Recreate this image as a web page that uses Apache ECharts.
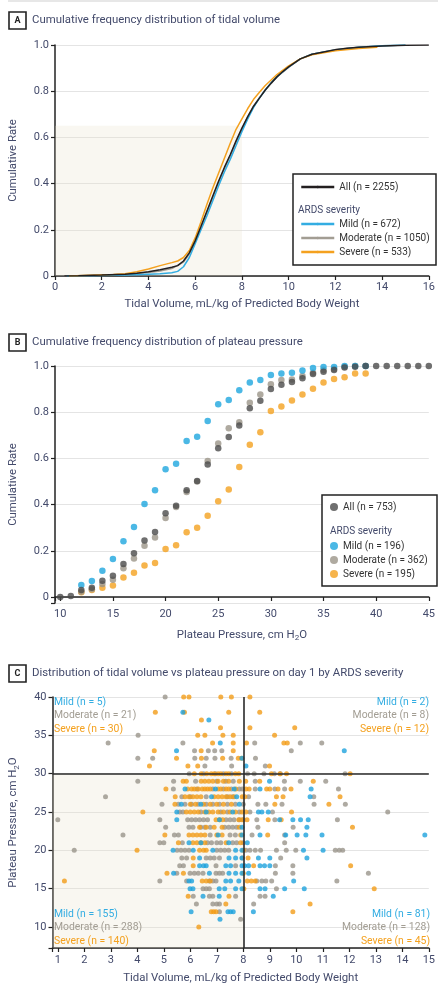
<!DOCTYPE html>
<html>
<head>
<meta charset="utf-8">
<script src="https://cdn.jsdelivr.net/npm/echarts@6/dist/echarts.min.js"></script>
<style>
  html, body { margin: 0; padding: 0; background: #fff; }
  #chart { width: 438px; height: 987px; }
</style>
</head>
<body>
<div id="chart"></div>
<script>
// ---- Panel A: cumulative frequency of tidal volume (x = mL/kg PBW, y = rate)
const tvAll = [[0.4,0],[1,0.001],[2,0.004],[3,0.008],[3.5,0.012],[4,0.018],[4.5,0.027],[5,0.038],[5.25,0.045],[5.5,0.065],[5.75,0.1],[6,0.152],[6.25,0.215],[6.5,0.28],[6.75,0.345],[7,0.41],[7.25,0.47],[7.5,0.525],[7.75,0.585],[8,0.64],[8.25,0.69],[8.5,0.735],[8.75,0.77],[9,0.805],[9.25,0.835],[9.5,0.862],[9.75,0.885],[10,0.905],[10.5,0.94],[11,0.96],[11.5,0.97],[12,0.98],[12.5,0.986],[13,0.99],[14,0.996],[15,0.999],[16,1]]
const tvMild = [[0.5,0],[2,0.002],[3,0.004],[4,0.008],[4.5,0.01],[5,0.014],[5.25,0.02],[5.5,0.04],[5.75,0.08],[6,0.14],[6.25,0.2],[6.5,0.26],[6.75,0.325],[7,0.39],[7.25,0.45],[7.5,0.505],[7.75,0.565],[8,0.625],[8.25,0.68],[8.5,0.73],[8.75,0.77],[9,0.805],[9.25,0.837],[9.5,0.863],[9.75,0.885],[10,0.905],[10.5,0.94],[11,0.96],[12,0.978],[13,0.99],[14,0.997],[15,1]]
const tvModerate = [[0.4,0],[2,0.003],[3,0.008],[4,0.015],[4.5,0.022],[5,0.032],[5.5,0.06],[5.75,0.095],[6,0.15],[6.25,0.212],[6.5,0.275],[6.75,0.34],[7,0.405],[7.25,0.465],[7.5,0.52],[7.75,0.58],[8,0.635],[8.25,0.69],[8.5,0.735],[8.75,0.772],[9,0.805],[9.5,0.862],[10,0.903],[10.5,0.94],[11,0.96],[12,0.98],[13,0.99],[14,0.997],[15,1]]
const tvSevere = [[0.6,0],[1.5,0.003],[2.5,0.006],[3,0.01],[3.5,0.018],[4,0.03],[4.5,0.045],[5,0.058],[5.25,0.065],[5.5,0.08],[5.75,0.11],[6,0.165],[6.25,0.235],[6.5,0.31],[6.75,0.38],[7,0.445],[7.25,0.51],[7.5,0.575],[7.75,0.635],[8,0.68],[8.25,0.725],[8.5,0.765],[8.75,0.795],[9,0.825],[9.5,0.872],[10,0.91],[10.5,0.94],[11,0.958],[12,0.975],[13,0.985],[13.8,0.99]]

// ---- Panel B: cumulative frequency of plateau pressure (x = cm H2O)
const ppAll = [[10,0],[11,0.004],[12,0.03],[13,0.04],[14,0.07],[15,0.092],[16,0.143],[17,0.189],[18,0.245],[19,0.281],[20,0.362],[21,0.395],[22,0.462],[23,0.502],[24,0.574],[25,0.644],[26,0.693],[27,0.742],[28,0.817],[29,0.85],[30,0.9],[31,0.919],[32,0.931],[33,0.947],[34,0.965],[35,0.975],[36,0.983],[37,0.993],[38,0.997],[39,1],[40,1],[41,1],[42,1],[43,1],[44,1],[45,1]]
const ppMild = [[12,0.052],[13,0.069],[14,0.114],[15,0.165],[16,0.241],[17,0.303],[18,0.403],[19,0.462],[20,0.553],[21,0.577],[22,0.675],[23,0.694],[24,0.762],[25,0.834],[26,0.853],[27,0.895],[28,0.929],[29,0.939],[30,0.961],[31,0.967],[32,0.971],[33,0.98],[34,0.991],[35,0.996],[36,0.996],[37,1],[38,1],[39,1]]
const ppModerate = [[12,0.023],[13,0.033],[14,0.056],[15,0.075],[16,0.124],[17,0.167],[18,0.222],[19,0.258],[20,0.342],[21,0.39],[22,0.455],[23,0.5],[24,0.589],[25,0.665],[26,0.73],[27,0.756],[28,0.841],[29,0.877],[30,0.921],[31,0.939],[32,0.942],[33,0.957],[34,0.971],[35,0.983],[36,0.987],[37,0.997],[38,1],[39,1]]
const ppSevere = [[12,0.02],[13,0.03],[14,0.04],[15,0.05],[16,0.084],[17,0.105],[18,0.136],[19,0.147],[20,0.208],[21,0.224],[22,0.28],[23,0.3],[24,0.352],[25,0.414],[26,0.465],[27,0.563],[28,0.659],[29,0.713],[30,0.805],[31,0.825],[32,0.851],[33,0.877],[34,0.902],[35,0.929],[36,0.944],[37,0.951],[38,0.968],[39,0.968]]

// ---- Panel C: day-1 tidal volume vs plateau pressure, rows as [pressure, tv1, tv2, ...]
const mildRows = [
  [38,5.72],[37,6.7],[34,7.13],[33,5.48,11.81],[32,7.95],[31,8.1],
  [29,8.99],
  [28,5.8,6.95,7.66,8.63,10.56],
  [27,6.8,7.75,10.52],
  [26,5.66,6.4,7.85],
  [25,5.49,6.6,7.6,8.57,8.7,8.94],
  [24,5.49,7.1,9.37,9.87,10.16,10.45],
  [23,7.95,10.4],
  [22,7.05,7.95,8.63,9.6,10.03,10.36,10.97,14.85],
  [21,5.95,6.4,7.45,8.15],
  [20,5.35,6.11,6.85,7.71,7.95,10.27,11.01],
  [19,6.35,7.46,7.71,7.95,8.57,9.0,10.4],
  [18,6.35,6.5,6.6,7.34,7.52,7.95,8.05,8.2,8.63,8.8,9.0],
  [17,5.37,6.72,7.46,7.71,7.95,8.2],
  [16,5.95,6.05,7.34,7.52,7.83,9.9],
  [15,5.99,6.1,7.09,7.3,7.71,7.95,8.63,8.82,9.56,10.3],
  [14,6.48,7.09,9.13],
  [12,6.03,7.42,7.52,7.62,8.38],
  [11,7.12]
]
const moderateRows = [
  [40,5.05],[35,4.03],
  [34,2.9,5.72,8.43,10.15,10.96],
  [33,6.16,6.68,6.92,7.19,9.81],
  [32,4.02,4.58,6.17,6.6,6.93,7.54,8.46],
  [31,6.55,7.56,8.83],
  [30,5.96,6.5,6.95,7.25,7.55,8.16,8.41,8.78,9.17,9.4,11.84],
  [29,4.02,5.37,6.2,7.0,7.34,7.62,8.45,9.55,10.15,11.11],
  [28,5.36,6.25,6.85,7.25,7.55,7.85,7.96,8.45,9.19,9.56,11.59],
  [27,2.8,5.68,6.0,6.6,7.4,7.6,8.2,10.66],
  [26,4.93,5.55,5.8,6.05,6.3,6.6,6.85,7.1,7.4,7.7,8.0,8.55,8.85,9.46,10.67,11.85],
  [25,5.6,5.72,6.4,7.15,7.4,7.85,8.25,9.1,13.45],
  [24,1.0,4.85,5.9,6.05,6.2,6.35,6.5,6.65,7.35,7.5,7.65,7.85,8.0,8.51,9.19,11.55],
  [23,5.07,5.95,6.1,6.4,6.55,6.75,7.3,7.45,7.6,7.75,8.55,9.88],
  [22,3.46,5.4,5.55,6.75,7.5,7.7,8.33,9.56],
  [21,4.85,5.0,5.7,6.65,6.8,7.0,7.15,7.6,7.75,8.0,9.56],
  [20,1.62,5.5,5.65,5.8,5.95,7.0,7.15,7.3,7.45,8.1,8.25,8.45,8.65,9.25,9.62,9.98,11.47,11.62,11.75],
  [19,5.68,5.86,6.6,6.75,6.9,7.1,7.96,9.41],
  [18,5.6,5.74,6.97,7.71,9.21,9.87],
  [17,5.49,5.99,6.15,6.3,6.48,6.97,7.1,7.22,9.21,9.87,12.72],
  [16,4.85,5.86,6.72,6.85,6.97,8.51,8.7,8.85,9.07,11.53],
  [15,6.48,6.6,6.72,9.25],
  [14,6.11,6.72,6.85,7.71,8.63,8.82],
  [13,6.23,6.85,7.0,7.1,8.39],
  [12,7.1],
  [11,7.9]
]
const severeRows = [
  [40,5.75,5.95,7.15,7.55,8.25],
  [38,4.68,5.78,7.45,8.62],
  [37,6.42],
  [36,7.14,8.25,9.94],
  [35,6.28,6.55,7.23,7.62,9.18],
  [34,6.84,7.62,8.12,9.53,9.66],
  [33,4.64,6.41,7.62],
  [32,5.48,6.42,7.22,7.81,7.93],
  [31,4.46,5.91,6.28,8.99],
  [30,6.15,6.41,6.62,6.79,6.9,7.05,7.15,7.35,7.45,7.7,7.83,9.06,9.38,9.63,12.03],
  [29,5.73,5.85,6.41,6.55,6.7,6.85,7.05,7.25,7.45,7.85,8.09,8.62,10.64],
  [28,5.08,5.9,6.05,6.15,6.3,6.45,6.55,6.65,6.75,7.05,7.15,7.35,7.45,7.72,8.1,8.22,8.88,9.0,9.31,9.8],
  [27,5.43,5.8,5.95,6.1,6.25,6.4,6.9,7.05,7.2,7.35,7.5,7.65,7.96,8.06,9.25,9.5,11.65],
  [26,5.42,6.0,6.2,6.5,6.75,7.0,7.25,7.55,9.19,11.23],
  [25,4.21,5.85,6.0,6.15,6.3,6.55,6.7,6.85,7.05,7.25,7.5,7.7,7.95,8.1,9.82],
  [24,6.97,7.1,7.22,7.83,7.95,8.14,8.94,9.43],
  [23,6.35,6.6,6.9,7.2,7.85,12.12],
  [22,5.04,5.95,6.1,6.25,6.4,6.55,7.0,7.2,7.9,8.92],
  [21,5.55,6.1,6.25,6.4,6.55,7.35,7.9],
  [20,3.99,6.35,6.5,6.6,8.0],
  [19,6.11,8.18],
  [18,6.11,8.39,12.05],
  [17,5.12,5.74,8.0],
  [16,1.25,6.45,6.6,6.75,8.15,8.3,8.45],
  [15,8.02,12.94],
  [14,5.92,7.46],
  [13,7.34,10.52],
  [12,6.79,6.88,6.97,9.87],
  [10,6.32]
]

const quadrantLabels = [
  ['Mild (n = 5)', 'Moderate (n = 21)', 'Severe (n = 30)'],
  ['Mild (n = 2)', 'Moderate (n = 8)', 'Severe (n = 12)'],
  ['Mild (n = 155)', 'Moderate (n = 288)', 'Severe (n = 140)'],
  ['Mild (n = 81)', 'Moderate (n = 128)', 'Severe (n = 45)']
]

const FONT = "Roboto, 'DejaVu Sans', sans-serif"
const TXT = '#434a6b'
const C_BLACK = '#231f20'
const C_MILD = '#33ade2'
const C_MOD = '#a29d93'
const C_SEV = '#f4a11f'
const C_ALL_DOT = '#4b4b4b'

const toPoints = (rows) => rows.flatMap((r) => r.slice(1).map((x) => [x, r[0]]))

const chart = echarts.init(document.getElementById('chart'), null, { renderer: 'canvas' })

const axisCommon = {
  axisLine: { lineStyle: { color: '#222', width: 1.5 } },
  axisTick: { show: true, inside: false, length: 4, lineStyle: { color: '#222', width: 1.2 } },
  axisLabel: { color: TXT, fontSize: 11, fontFamily: FONT },
  nameTextStyle: { color: TXT, fontSize: 11.4, fontFamily: FONT },
  nameLocation: 'middle',
}
const rateFmt = (v) => (v < 0 ? '' : v === 0 ? '0' : v.toFixed(1))
const gridLine = { show: true, lineStyle: { color: '#e4e4e4', width: 1 } }
const h2oRich = { sub: { fontSize: 8, verticalAlign: 'bottom', padding: [6, 0, 0, 0], color: TXT, fontFamily: FONT } }
const legendText = { color: '#333', fontSize: 10, fontFamily: FONT, lineHeight: 14 }

function panelHead(letter, title, cy) {
  return [
    { type: 'rect', shape: { x: 9, y: cy - 8.5, width: 17, height: 17 }, style: { fill: '#fff', stroke: '#222', lineWidth: 1.6 } },
    { type: 'text', x: 17.5, y: cy, style: { text: letter, fill: '#222', font: 'bold 9px ' + FONT, textAlign: 'center', textVerticalAlign: 'middle' } },
    { type: 'text', x: 32, y: cy, style: { text: title, fill: TXT, font: '11.4px ' + FONT, textVerticalAlign: 'middle' } },
  ]
}

function quadText(lines, x, y, align) {
  const cols = [C_MILD, C_MOD, C_SEV]
  return lines.map((t, i) => ({
    type: 'text', x, y: y + i * 13.5, z: 5,
    style: { text: t, fill: cols[i], font: '10.4px ' + FONT, textAlign: align, textVerticalAlign: 'middle' },
  }))
}

const option = {
  animation: false,
  textStyle: { fontFamily: FONT },
  grid: [
    { left: 48, top: 45, width: 384, height: 231 },
    { left: 48, top: 366, width: 384, height: 237 },
    { left: 48, top: 697, width: 384, height: 251 },
  ],
  xAxis: [
    { ...axisCommon, gridIndex: 0, type: 'value', min: 0, max: 16, interval: 2, splitLine: { show: false },
      axisLabel: { ...axisCommon.axisLabel, margin: 6 },
      name: 'Tidal Volume, mL/kg of Predicted Body Weight', nameGap: 23 },
    { ...axisCommon, gridIndex: 1, type: 'value', min: 9.5, max: 45, splitNumber: 7, splitLine: { show: false },
      axisLabel: { ...axisCommon.axisLabel, margin: 6, formatter: (v) => (v % 5 === 0 ? String(v) : '') },
      name: 'Plateau Pressure, cm H{sub|2}O', nameGap: 25, nameTextStyle: { ...axisCommon.nameTextStyle, rich: h2oRich } },
    { ...axisCommon, gridIndex: 2, type: 'value', min: 0.8, max: 15, splitNumber: 14, splitLine: { show: false },
      axisLabel: { ...axisCommon.axisLabel, margin: 7, formatter: (v) => (Number.isInteger(v) ? String(v) : '') },
      name: 'Tidal Volume, mL/kg of Predicted Body Weight', nameGap: 25 },
  ],
  yAxis: [
    { ...axisCommon, gridIndex: 0, type: 'value', min: 0, max: 1, interval: 0.2, splitLine: gridLine,
      axisLabel: { ...axisCommon.axisLabel, margin: 6, formatter: rateFmt },
      name: 'Cumulative Rate', nameGap: 36 },
    { ...axisCommon, gridIndex: 1, type: 'value', min: -0.026, max: 1, splitNumber: 5, splitLine: gridLine,
      axisLabel: { ...axisCommon.axisLabel, margin: 6, formatter: rateFmt },
      name: 'Cumulative Rate', nameGap: 36 },
    { ...axisCommon, gridIndex: 2, type: 'value', min: 7.26, max: 40, splitNumber: 6, splitLine: gridLine,
      axisLabel: { ...axisCommon.axisLabel, margin: 6, formatter: (v) => (v % 5 === 0 ? String(v) : '') },
      name: 'Plateau Pressure, cm H{sub|2}O', nameGap: 32, nameTextStyle: { ...axisCommon.nameTextStyle, rich: h2oRich } },
  ],
  legend: [
    { data: ['All (n = 2255)'], left: 300, top: 180, padding: 0, itemWidth: 33, itemHeight: 3, selectedMode: false,
      lineStyle: { width: 2.5 }, textStyle: legendText },
    { data: ['Mild (n = 672)', 'Moderate (n = 1050)', 'Severe (n = 533)'], orient: 'vertical', left: 300, top: 217,
      padding: 0, itemWidth: 33, itemHeight: 3, itemGap: 0, selectedMode: false, lineStyle: { width: 2.5 },
      textStyle: legendText },
    { data: ['All (n = 753)'], left: 330, top: 500, padding: 0, icon: 'circle', itemWidth: 8, itemHeight: 8,
      selectedMode: false, textStyle: legendText },
    { data: ['Mild (n = 196)', 'Moderate (n = 362)', 'Severe (n = 195)'], orient: 'vertical', left: 330, top: 539,
      padding: 0, icon: 'circle', itemWidth: 8, itemHeight: 8, itemGap: 0, selectedMode: false,
      textStyle: legendText },
  ],
  graphic: [
    { type: 'line', shape: { x1: 8, y1: 1, x2: 438, y2: 1 }, style: { stroke: '#cfcfcf', lineWidth: 1 } },
    ...panelHead('A', 'Cumulative frequency distribution of tidal volume', 20.5),
    ...panelHead('B', 'Cumulative frequency distribution of plateau pressure', 342.5),
    ...panelHead('C', 'Distribution of tidal volume vs plateau pressure on day 1 by ARDS severity', 673.5),
    { type: 'rect', z: 3, shape: { x: 293, y: 174, width: 143, height: 91 }, style: { fill: '#fff', stroke: '#222', lineWidth: 1.5 } },
    { type: 'text', z: 5, x: 298, y: 210, style: { text: 'ARDS severity', fill: TXT, font: '10px ' + FONT, textVerticalAlign: 'middle' } },
    { type: 'rect', z: 3, shape: { x: 322, y: 495, width: 115, height: 91 }, style: { fill: '#fff', stroke: '#222', lineWidth: 1.5 } },
    { type: 'text', z: 5, x: 330, y: 531, style: { text: 'ARDS severity', fill: TXT, font: '10px ' + FONT, textVerticalAlign: 'middle' } },
    ...quadText(quadrantLabels[0], 54, 702, 'left'),
    ...quadText(quadrantLabels[1], 429, 702, 'right'),
    ...quadText(quadrantLabels[2], 54, 914, 'left'),
    ...quadText(quadrantLabels[3], 430, 914, 'right'),
  ],
  series: [
    // Panel A
    { name: 'Moderate (n = 1050)', type: 'line', xAxisIndex: 0, yAxisIndex: 0, data: tvModerate, symbol: 'none',
      color: C_MOD, lineStyle: { width: 1.5 },
      markArea: { silent: true, itemStyle: { color: 'rgba(232,224,200,0.25)' },
        data: [[{ coord: [0, 0] }, { coord: [8, 0.65] }]] } },
    { name: 'Mild (n = 672)', type: 'line', xAxisIndex: 0, yAxisIndex: 0, data: tvMild, symbol: 'none',
      color: C_MILD, lineStyle: { width: 1.5 } },
    { name: 'Severe (n = 533)', type: 'line', xAxisIndex: 0, yAxisIndex: 0, data: tvSevere, symbol: 'none',
      color: C_SEV, lineStyle: { width: 1.5 } },
    { name: 'All (n = 2255)', type: 'line', xAxisIndex: 0, yAxisIndex: 0, data: tvAll, symbol: 'none',
      color: C_BLACK, lineStyle: { width: 1.5 } },
    // Panel B
    { name: 'Severe (n = 195)', type: 'scatter', xAxisIndex: 1, yAxisIndex: 1, data: ppSevere, symbolSize: 6.5, color: C_SEV },
    { name: 'Moderate (n = 362)', type: 'scatter', xAxisIndex: 1, yAxisIndex: 1, data: ppModerate, symbolSize: 6.5, color: '#9b9588' },
    { name: 'Mild (n = 196)', type: 'scatter', xAxisIndex: 1, yAxisIndex: 1, data: ppMild, symbolSize: 6.5, color: '#1ea6df' },
    { name: 'All (n = 753)', type: 'scatter', xAxisIndex: 1, yAxisIndex: 1, data: ppAll, symbolSize: 6.5, color: C_ALL_DOT },
    // Panel C
    { name: 'Moderate day 1', type: 'scatter', xAxisIndex: 2, yAxisIndex: 2, data: toPoints(moderateRows),
      symbolSize: 5, color: '#9a958b',
      markArea: { silent: true, itemStyle: { color: 'rgba(232,224,200,0.25)' },
        data: [[{ coord: [0.8, 7.26] }, { coord: [8, 30] }]] } },
    { name: 'Severe day 1', type: 'scatter', xAxisIndex: 2, yAxisIndex: 2, data: toPoints(severeRows),
      symbolSize: 5, color: '#f39c18' },
    { name: 'Mild day 1', type: 'scatter', xAxisIndex: 2, yAxisIndex: 2, data: toPoints(mildRows),
      symbolSize: 5, color: '#1ea3dd',
      markLine: { silent: true, symbol: 'none', label: { show: false },
        lineStyle: { color: '#2a2a2a', width: 1.6, type: 'solid' },
        data: [{ xAxis: 8 }, { yAxis: 30 }] } },
  ],
}

chart.setOption(option)
</script>
</body>
</html>
